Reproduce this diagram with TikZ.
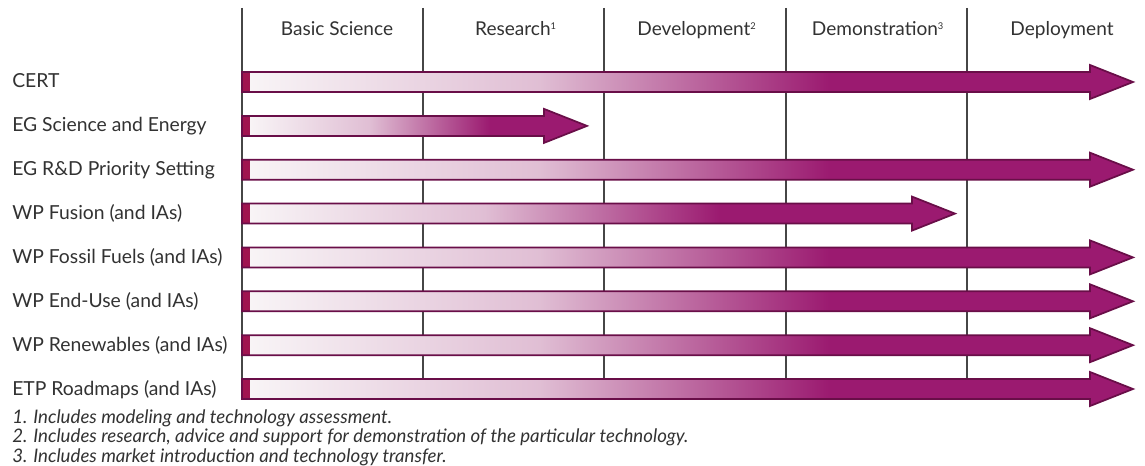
\documentclass[tikz,border=0pt]{standalone}
\usepackage{fontspec}
\setmainfont{Lato}
\definecolor{mag}{RGB}{155,26,112}
\definecolor{magd}{RGB}{105,14,72}
\definecolor{magcap}{RGB}{160,20,80}
\definecolor{magl}{RGB}{248,244,246}
\definecolor{magm}{RGB}{224,190,212}
\definecolor{txt}{RGB}{50,50,50}
\definecolor{gridc}{RGB}{70,70,70}
\tikzset{
  rowlabel/.style={anchor=base west, inner sep=0pt, text=txt, font=\fontsize{14.5}{16}\selectfont},
  colhead/.style={anchor=base, inner sep=0pt, text=txt, font=\fontsize{14.3}{16}\selectfont},
  footnote/.style={anchor=base west, inner sep=0pt, text=txt, font=\fontsize{14}{15}\selectfont\itshape},
  gridline/.style={draw=gridc, line width=0.9pt},
  arrowline/.style={draw=magd, line width=1.3pt, line join=miter}
}
% #1 y centre, #2 tip x, #3 gradient end x
\newcommand\procarrow[3]{%
  \pgfmathsetmacro\gmid{250+0.5*(#3-250)}%
  \begin{scope}
    \clip (242,#1-10) -- (#2-43,#1-10) -- (#2-43,#1-17) -- (#2,#1) -- (#2-43,#1+17) -- (#2-43,#1+10) -- (242,#1+10) -- cycle;
    \shade[left color=magl, right color=magm] (250,#1-20) rectangle (\gmid,#1+20);
    \shade[left color=magm, right color=mag] (\gmid-0.5,#1-20) rectangle (#3,#1+20);
    \fill[mag] (#3-0.5,#1-20) rectangle (#2+1,#1+20);
    \fill[magcap] (240,#1-20) rectangle (250,#1+20);
  \end{scope}
  \draw[arrowline] (242,#1-10) -- (#2-43,#1-10) -- (#2-43,#1-17) -- (#2,#1) -- (#2-43,#1+17) -- (#2-43,#1+10) -- (242,#1+10) -- cycle;
}
\begin{document}
\begin{tikzpicture}[x=0.75pt,y=-0.75pt]
\useasboundingbox (0,0) rectangle (1145,466);
\fill[white] (0,0) rectangle (1145,466);
% grid
\foreach \gx/\nm in {242/g0,423/g1,604/g2,786/g3,967/g4}{
  \coordinate (\nm t) at (\gx,8);
  \coordinate (\nm b) at (\gx,400);
  \draw[gridline] (\nm t) -- (\nm b);
}
% column headers
\node[colhead] (h1) at (337,36) {Basic Science};
\node[colhead] (h2) at (516,36) {Research\textsuperscript{\scriptsize 1}};
\node[colhead] (h3) at (697,36) {Development\textsuperscript{\scriptsize 2}};
\node[colhead] (h4) at (878,36) {Demonstration\textsuperscript{\scriptsize 3}};
\node[colhead] (h5) at (1062,36) {Deployment};
% rows
\procarrow{82}{1133}{830}
\procarrow{125.9}{587}{490}
\procarrow{169.7}{1133}{830}
\procarrow{213.6}{955}{720}
\procarrow{257.4}{1133}{830}
\procarrow{301.3}{1133}{830}
\procarrow{345.2}{1133}{830}
\procarrow{389}{1133}{830}
\node[rowlabel] (r1) at (12,88) {CERT};
\node[rowlabel] (r2) at (12,131.9) {EG Science and Energy};
\node[rowlabel] (r3) at (12,175.7) {EG R\&D Priority Setting};
\node[rowlabel] (r4) at (12,219.6) {WP Fusion (and IAs)};
\node[rowlabel] (r5) at (12,263.4) {WP Fossil Fuels (and IAs)};
\node[rowlabel] (r6) at (12,307.3) {WP End-Use (and IAs)};
\node[rowlabel] (r7) at (12,351.2) {WP Renewables (and IAs)};
\node[rowlabel] (r8) at (12,395) {ETP Roadmaps (and IAs)};
% footnotes
\node[footnote] (f1) at (12,423) {1. Includes modeling and technology assessment.};
\node[footnote] (f2) at (12,442.5) {2. Includes research, advice and support for demonstration of the particular technology.};
\node[footnote] (f3) at (12,462) {3. Includes market introduction and technology transfer.};
\end{tikzpicture}
\end{document}
